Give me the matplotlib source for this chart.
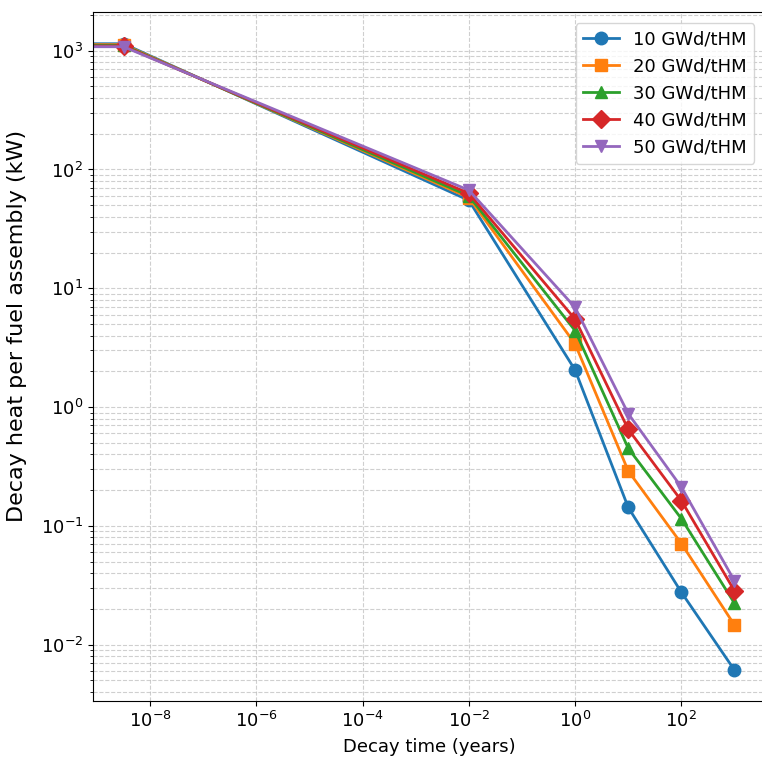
import numpy as np
import matplotlib
matplotlib.use("Agg")
import matplotlib.pyplot as plt
from matplotlib.ticker import LogLocator, NullLocator

# Decay times in years (0 = discharge; 0.1 s; ~3.65 d; 1, 10, 100, 1000 y)
times = [0.0, 3.17e-9, 1e-2, 1.0, 10.0, 100.0, 1000.0]
labels = ["10 GWd/tHM", "20 GWd/tHM", "30 GWd/tHM", "40 GWd/tHM", "50 GWd/tHM"]
heat_10 = [1150, 1145, 55, 2.05, 0.143, 0.0276, 0.0061]
heat_20 = [1130, 1125, 58, 3.4, 0.29, 0.071, 0.0146]
heat_30 = [1115, 1110, 60, 4.4, 0.45, 0.115, 0.0223]
heat_40 = [1100, 1095, 63, 5.5, 0.65, 0.163, 0.0284]
heat_50 = [1085, 1080, 67, 6.9, 0.88, 0.212, 0.0344]
series = [heat_10, heat_20, heat_30, heat_40, heat_50]
markers = ["o", "s", "^", "D", "v"]
colors = ["#1f77b4", "#ff7f0e", "#2ca02c", "#d62728", "#9467bd"]

fig = plt.figure(figsize=(7.62, 7.60), dpi=100)
ax = fig.add_axes([0.122, 0.077, 0.882, 0.907])

for lab, vals, m, c in zip(labels, series, markers, colors):
    ax.plot(times, vals, marker=m, color=c, label=lab, linewidth=2, markersize=9)

ax.set_xscale("log")
ax.set_yscale("log")
ax.xaxis.set_major_locator(LogLocator(base=10, numticks=8))
ax.xaxis.set_minor_locator(NullLocator())

ax.grid(True, which="both", linestyle="--", color="#b0b0b0", alpha=0.6, linewidth=0.8)
ax.set_xlabel("Decay time (years)", fontsize=13, labelpad=5)
ax.set_ylabel("Decay heat per fuel assembly (kW)", fontsize=16)
ax.yaxis.set_label_coords(-0.098, 0.545)
ax.tick_params(labelsize=13)
ax.legend(fontsize=13, loc="upper right", borderaxespad=0.6)

fig.savefig("out.png", dpi=100)
